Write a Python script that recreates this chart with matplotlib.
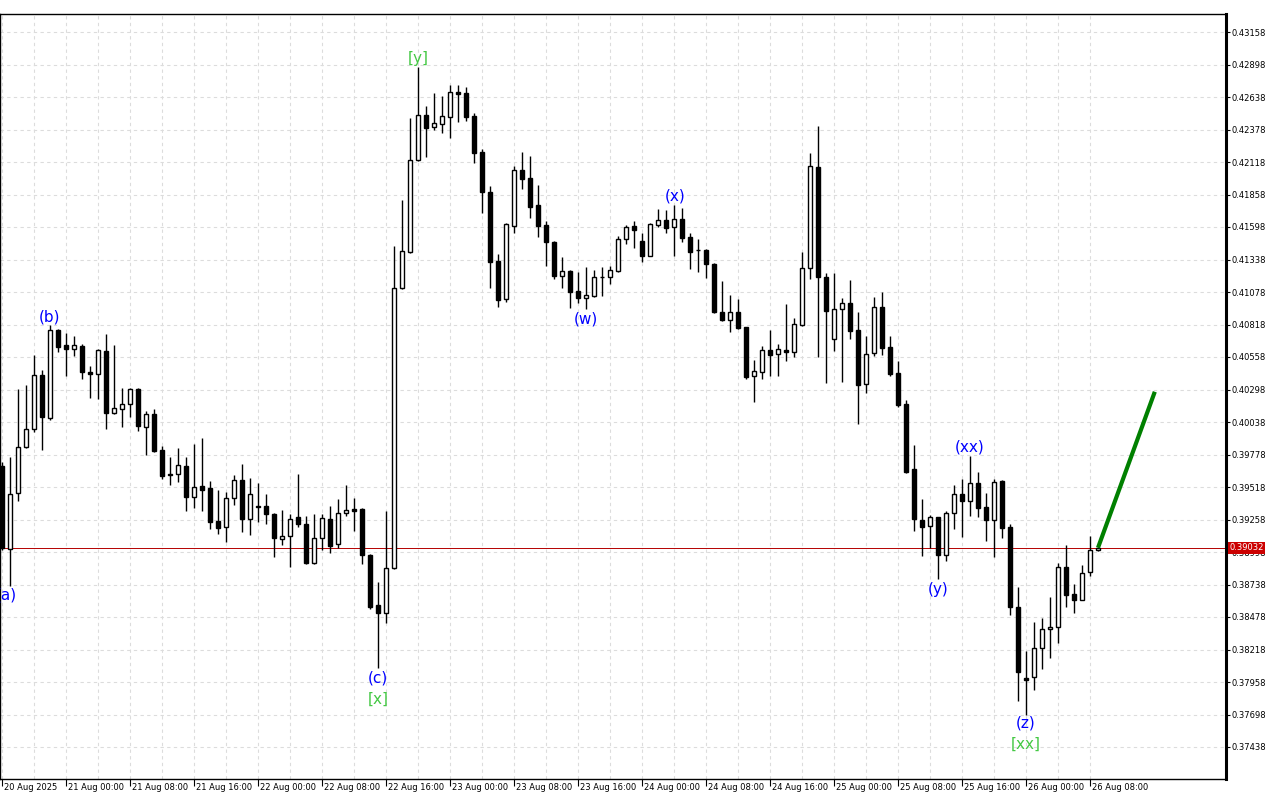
import pandas as pd
import matplotlib.pyplot as plt
import matplotlib.transforms as mtransforms

# H1 candles, 20 Aug 2025 16:00 .. 26 Aug 2025 09:00
opens = [0.39686, 0.39020, 0.39468, 0.39836, 0.39980, 0.40412, 0.40072, 0.40774, 0.40652, 0.40624,
         0.40646, 0.40438, 0.40420, 0.40606, 0.40112, 0.40140, 0.40184, 0.40302, 0.40000, 0.40100,
         0.39812, 0.39622, 0.39624, 0.39686, 0.39440, 0.39524, 0.39508, 0.39246, 0.39196, 0.39428,
         0.39572, 0.39260, 0.39366, 0.39366, 0.39300, 0.39100, 0.39124, 0.39276, 0.39220, 0.38912,
         0.39108, 0.39260, 0.39060, 0.39308, 0.39340, 0.39342, 0.38976, 0.38574, 0.38508, 0.38868,
         0.41108, 0.41400, 0.42132, 0.42492, 0.42400, 0.42420, 0.42476, 0.42676, 0.42670, 0.42486,
         0.42198, 0.41878, 0.41326, 0.41022, 0.41608, 0.42052, 0.41988, 0.41772, 0.41612, 0.41476,
         0.41204, 0.41244, 0.41084, 0.41028, 0.41048, 0.41198, 0.41196, 0.41248, 0.41500, 0.41606,
         0.41484, 0.41368, 0.41616, 0.41652, 0.41596, 0.41660, 0.41516, 0.41416, 0.41414, 0.41302,
         0.40918, 0.40856, 0.40916, 0.40796, 0.40404, 0.40436, 0.40614, 0.40580, 0.40614, 0.40596,
         0.40812, 0.41268, 0.42078, 0.41198, 0.40700, 0.40942, 0.40988, 0.40774, 0.40340, 0.40588,
         0.40956, 0.40636, 0.40428, 0.40182, 0.39662, 0.39254, 0.39204, 0.39276, 0.38972, 0.39308,
         0.39460, 0.39404, 0.39548, 0.39356, 0.39252, 0.39566, 0.39196, 0.38556, 0.37988, 0.37996,
         0.38228, 0.38380, 0.38396, 0.38876, 0.38660, 0.38612, 0.38836, 0.39012]
highs = [0.39718, 0.39760, 0.40302, 0.40334, 0.40574, 0.40454, 0.40814, 0.40780, 0.40748, 0.40726,
         0.40662, 0.40486, 0.40620, 0.40742, 0.40654, 0.40308, 0.40312, 0.40310, 0.40126, 0.40142,
         0.39844, 0.39758, 0.39828, 0.39758, 0.39862, 0.39908, 0.39566, 0.39492, 0.39478, 0.39614,
         0.39702, 0.39588, 0.39550, 0.39462, 0.39310, 0.39334, 0.39300, 0.39622, 0.39284, 0.39300,
         0.39302, 0.39366, 0.39422, 0.39534, 0.39428, 0.39350, 0.38986, 0.38758, 0.39326, 0.41448,
         0.41814, 0.42470, 0.42880, 0.42566, 0.42668, 0.42646, 0.42734, 0.42734, 0.42716, 0.42508,
         0.42224, 0.41926, 0.41382, 0.41628, 0.42086, 0.42196, 0.42166, 0.41934, 0.41646, 0.41484,
         0.41358, 0.41254, 0.41238, 0.41280, 0.41254, 0.41276, 0.41288, 0.41524, 0.41614, 0.41648,
         0.41548, 0.41628, 0.41742, 0.41734, 0.41774, 0.41748, 0.41548, 0.41502, 0.41422, 0.41308,
         0.41166, 0.41054, 0.41022, 0.40800, 0.40534, 0.40646, 0.40774, 0.40662, 0.40984, 0.40870,
         0.41398, 0.42190, 0.42406, 0.41228, 0.41228, 0.41028, 0.41174, 0.40920, 0.40726, 0.41040,
         0.41076, 0.40726, 0.40526, 0.40214, 0.39856, 0.39422, 0.39294, 0.39280, 0.39328, 0.39534,
         0.39582, 0.39768, 0.39636, 0.39468, 0.39580, 0.39574, 0.39220, 0.38718, 0.38206, 0.38438,
         0.38470, 0.38640, 0.38908, 0.39054, 0.38742, 0.38892, 0.39124, 0.39036]
lows = [0.39014, 0.38726, 0.39408, 0.39834, 0.39960, 0.39814, 0.40054, 0.40596, 0.40406, 0.40566,
        0.40384, 0.40232, 0.40222, 0.39984, 0.40104, 0.40000, 0.40080, 0.39968, 0.39774, 0.39800,
        0.39582, 0.39536, 0.39560, 0.39324, 0.39348, 0.39328, 0.39180, 0.39144, 0.39080, 0.39372,
        0.39160, 0.39136, 0.39240, 0.39224, 0.38956, 0.39054, 0.38880, 0.39196, 0.38904, 0.38904,
        0.39016, 0.38988, 0.39028, 0.39288, 0.39166, 0.38902, 0.38544, 0.38070, 0.38432, 0.38862,
        0.41102, 0.41392, 0.42128, 0.42160, 0.42374, 0.42352, 0.42312, 0.42440, 0.42448, 0.42112,
        0.41708, 0.41112, 0.40960, 0.41000, 0.41548, 0.41904, 0.41672, 0.41516, 0.41288, 0.41180,
        0.41108, 0.40948, 0.40988, 0.40942, 0.41040, 0.41048, 0.41142, 0.41238, 0.41460, 0.41428,
        0.41320, 0.41368, 0.41596, 0.41552, 0.41368, 0.41476, 0.41264, 0.41236, 0.41188, 0.40912,
        0.40850, 0.40756, 0.40786, 0.40384, 0.40200, 0.40384, 0.40408, 0.40408, 0.40524, 0.40560,
        0.40806, 0.41180, 0.40556, 0.40348, 0.40606, 0.40360, 0.40704, 0.40020, 0.40268, 0.40568,
        0.40576, 0.40404, 0.40160, 0.39632, 0.39168, 0.38968, 0.39032, 0.38780, 0.38928, 0.39180,
        0.39116, 0.39288, 0.39280, 0.39088, 0.38960, 0.39108, 0.38492, 0.37808, 0.37694, 0.37894,
        0.38062, 0.38152, 0.38272, 0.38556, 0.38512, 0.38612, 0.38808, 0.39008]
closes = [0.39030, 0.39460, 0.39838, 0.39982, 0.40412, 0.40080, 0.40772, 0.40636, 0.40624, 0.40652,
          0.40436, 0.40420, 0.40614, 0.40112, 0.40148, 0.40180, 0.40302, 0.40008, 0.40100, 0.39806,
          0.39608, 0.39612, 0.39692, 0.39440, 0.39516, 0.39496, 0.39240, 0.39192, 0.39428, 0.39572,
          0.39260, 0.39460, 0.39362, 0.39300, 0.39108, 0.39124, 0.39264, 0.39220, 0.38910, 0.39108,
          0.39268, 0.39048, 0.39308, 0.39332, 0.39330, 0.38976, 0.38560, 0.38508, 0.38868, 0.41108,
          0.41406, 0.42132, 0.42492, 0.42392, 0.42428, 0.42484, 0.42676, 0.42664, 0.42480, 0.42192,
          0.41876, 0.41320, 0.41014, 0.41620, 0.42052, 0.41984, 0.41760, 0.41608, 0.41476, 0.41204,
          0.41244, 0.41080, 0.41028, 0.41054, 0.41198, 0.41196, 0.41252, 0.41502, 0.41600, 0.41574,
          0.41368, 0.41620, 0.41652, 0.41592, 0.41664, 0.41512, 0.41396, 0.41412, 0.41300, 0.40918,
          0.40856, 0.40916, 0.40792, 0.40396, 0.40446, 0.40612, 0.40576, 0.40620, 0.40596, 0.40820,
          0.41268, 0.42084, 0.41196, 0.40928, 0.40942, 0.40988, 0.40768, 0.40334, 0.40580, 0.40956,
          0.40632, 0.40420, 0.40174, 0.39640, 0.39260, 0.39200, 0.39276, 0.38972, 0.39308, 0.39460,
          0.39404, 0.39548, 0.39348, 0.39252, 0.39556, 0.39188, 0.38556, 0.38036, 0.37976, 0.38228,
          0.38380, 0.38396, 0.38880, 0.38656, 0.38612, 0.38832, 0.39012, 0.39032]

price_ticks = [0.43158, 0.42898, 0.42638, 0.42378, 0.42118, 0.41858, 0.41598, 0.41338,
               0.41078, 0.40818, 0.40558, 0.40298, 0.40038, 0.39778, 0.39518, 0.39258,
               0.38998, 0.38738, 0.38478, 0.38218, 0.37958, 0.37698, 0.37438]
last_price = 0.39032

# wave marks: text, bar position, price
wave_text = ['(a)', '(b)', '(c)', '[x]', '[y]', '(w)', '(x)', '(y)', '(xx)', '(z)', '[xx]']
wave_bar = [0.6, 5.9, 47, 47, 52, 73, 84.1, 117, 120.9, 128, 128]
wave_price = [0.38654, 0.40878, 0.37990, 0.37822, 0.42942, 0.40862, 0.41846, 0.38702, 0.39838, 0.37630, 0.37462]

# projected move
target_bar = [137, 144.1]
target_price = [0.39032, 0.40280]

times = pd.date_range("2025-08-20 16:00", periods=len(opens), freq="h")
x = list(range(len(opens)))

fig = plt.figure(figsize=(12.8, 8), dpi=100)
ax = fig.add_axes([0.0, 21 / 800, 1226 / 1280, 765 / 800])

# wicks + bodies
ax.vlines(x, lows, highs, color="black", linewidth=1, zorder=2)
bottoms = [min(o, c) for o, c in zip(opens, closes)]
heights = [max(abs(c - o), 0.00001) for o, c in zip(opens, closes)]
faces = ["white" if c >= o else "black" for o, c in zip(opens, closes)]
ax.bar(x, heights, bottom=bottoms, width=0.55, color=faces, edgecolor="black",
       linewidth=1, zorder=3)

ax.axhline(last_price, color="#b40000", linewidth=0.7, zorder=1)
ax.plot(target_bar, target_price, color="#008000", linewidth=3, zorder=4,
        solid_capstyle="butt")

for t, b, p in zip(wave_text, wave_bar, wave_price):
    col = "#44c844" if t.startswith("[") else "#0000ff"
    ax.text(b, p, t, color=col, fontsize=11, ha="center", va="center",
            clip_on=True, zorder=5)

ax.set_xlim(-0.25, 153.0)
ax.set_ylim(0.37182, 0.43302)

# x axis: first bar shows the date, then every 8 hours
tick_pos = [0] + [i for i in x[1:] if times[i].hour % 8 == 0]
tick_lbl = ["20 Aug 2025"] + [times[i].strftime("%d %b %H:%M") for i in tick_pos[1:]]
ax.set_xticks(tick_pos)
ax.set_xticklabels(tick_lbl, ha="left", fontsize=6)
ax.set_xticks([i for i in x if times[i].hour % 4 == 0], minor=True)
ax.tick_params(axis="x", which="major", direction="out", length=5, width=0.8, pad=-2)
ax.tick_params(axis="x", which="minor", length=0)
off = mtransforms.ScaledTranslation(2 / 100, 0, fig.dpi_scale_trans)
for lbl in ax.get_xticklabels():
    lbl.set_transform(lbl.get_transform() + off)

# y axis on the right
ax.yaxis.tick_right()
ax.set_yticks(price_ticks)
ax.set_yticklabels([f"{v:.5f}" for v in price_ticks], fontsize=6)
ax.tick_params(axis="y", direction="out", length=3, width=0.8, pad=1)

ax.grid(True, which="both", axis="x", color="#dcdcdc", linestyle=(0, (3, 3)), linewidth=0.8)
ax.grid(True, which="major", axis="y", color="#dcdcdc", linestyle=(0, (3, 3)), linewidth=0.8)
ax.set_axisbelow(True)

for s in ["left", "top", "bottom"]:
    ax.spines[s].set_linewidth(1)
ax.spines["right"].set_linewidth(2.2)

ax.text(1.0025, last_price, f"{last_price:.5f}", transform=ax.get_yaxis_transform(),
        ha="left", va="center", fontsize=6, color="white", zorder=10, clip_on=False,
        bbox=dict(boxstyle="square,pad=0.15", facecolor="#cc0000", edgecolor="none"))

plt.savefig("out.png", dpi=100)
